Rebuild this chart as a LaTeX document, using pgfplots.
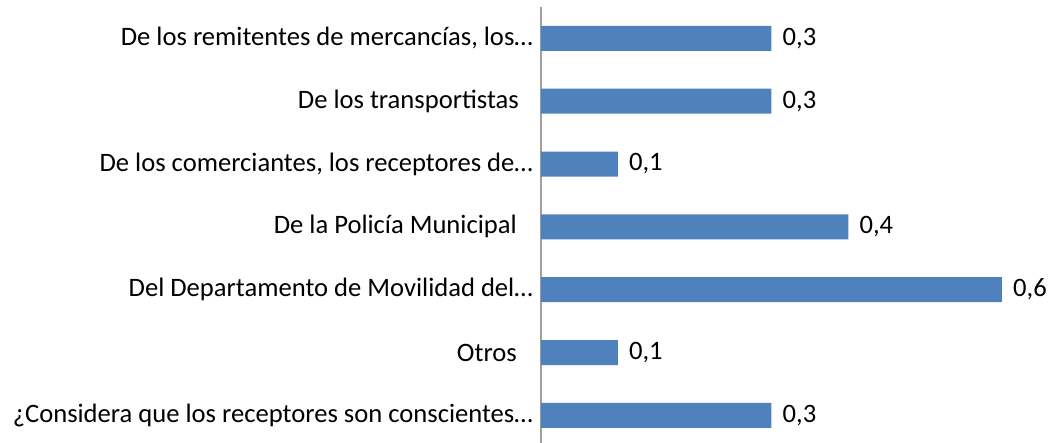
\documentclass[border=0pt]{standalone}
\usepackage{pgfplots}
\pgfplotsset{compat=1.18}
\usepackage{fontspec}
\setmainfont{Carlito}
\definecolor{barblue}{HTML}{4F81BD}
\definecolor{axgray}{HTML}{A0A0A0}
\begin{document}
\begin{tikzpicture}
\begin{axis}[
  scale only axis,
  width=461bp, height=436bp,
  xmin=0, xmax=0.6,
  ymin=-0.44, ymax=6.5,
  axis x line=none,
  axis y line*=left,
  y axis line style={axgray, line width=1.2bp, -},
  ytick={0,1,2,3,4,5,6},
  yticklabels={{¿Considera que los receptores son conscientes…},{Otros\hspace*{16bp}},{Del Departamento de Movilidad del…},{De la Policía Municipal\hspace*{16bp}},{De los comerciantes, los receptores de…},{De los transportistas\hspace*{14bp}},{De los remitentes de mercancías, los…}},
  major tick length=0pt,
  y tick label style={anchor=east, inner sep=0pt, xshift=-8bp, font=\fontsize{26.6bp}{30bp}\selectfont, text=black},
  xbar, bar width=25bp,
  nodes near coords,
  nodes near coords style={anchor=west, inner sep=0pt, xshift=11bp, font=\fontsize{26.6bp}{30bp}\selectfont, text=black, /pgf/number format/.cd, assume math mode=true, use comma, fixed, fixed zerofill, precision=1},
  clip=false,
]
\coordinate (O) at (axis cs:0,-0.44);
\addplot[fill=barblue, draw=none] coordinates {(0.3,0) (0.1,1) (0.6,2) (0.4,3) (0.1,4) (0.3,5) (0.3,6)};
\end{axis}
\pgfresetboundingbox
\path ([xshift=-541bp]O) rectangle ([xshift=513bp,yshift=443bp]O);
\end{tikzpicture}
\end{document}
